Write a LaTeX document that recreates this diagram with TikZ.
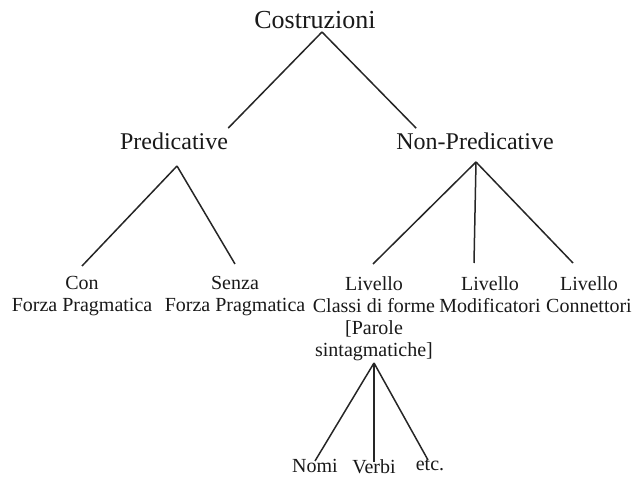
\documentclass[tikz,border=0pt]{standalone}
\usepackage{fontspec}
\setmainfont{Liberation Serif}
\usetikzlibrary{positioning}
\tikzset{
    branch/.style={
        draw=black!85,
        line width=1.5pt
    },
    rootlabel/.style={
        font=\fontsize{26}{28}\selectfont,
        inner sep=0pt,
        anchor=base,
        text=black!90
    },
    catlabel/.style={
        font=\fontsize{24}{26}\selectfont,
        inner sep=0pt,
        anchor=base,
        text=black!90
    },
    leaflabel/.style={
        font=\fontsize{20}{22}\selectfont,
        inner sep=0pt,
        anchor=north,
        align=center,
        text=black!90
    }
}

\begin{document}
\begin{tikzpicture}[x=1pt,y=-1pt]
    \useasboundingbox (0,0) rectangle (638,478);

    \node[rootlabel] (costr) at (315,29) {Costruzioni};
    \node[catlabel] (pred) at (174,150) {Predicative};
    \node[catlabel] (npred) at (475,150) {Non-Predicative};

    \node[leaflabel] (con) at (82,276) {Con\\Forza Pragmatica};
    \node[leaflabel] (senza) at (235,276) {Senza\\Forza Pragmatica};
    \node[leaflabel] (classi) at (374,276) {Livello\\Classi di forme\\{[}Parole\\sintagmatiche{]}};
    \node[leaflabel] (modif) at (490,276) {Livello\\Modificatori};
    \node[leaflabel] (conn) at (589,276) {Livello\\Connettori};

    \node[leaflabel] (nomi) at (315,459) {Nomi};
    \node[leaflabel] (verbi) at (374,459) {Verbi};
    \node[leaflabel] (etc) at (430,459) {etc.};

    \coordinate (costr-fork) at (322,32);
    \coordinate (pred-fork) at (177,166);
    \coordinate (npred-fork) at (476,162);
    \coordinate (classi-fork) at (374,363);

    \draw[branch] (costr-fork) -- ([yshift=5pt]pred.north east);
    \draw[branch] (costr-fork) -- ([xshift=20pt,yshift=5pt]npred.north west);
    \draw[branch] (pred-fork) -- ([yshift=10pt]con.north);
    \draw[branch] (pred-fork) -- ([yshift=12pt]senza.north);
    \draw[branch] (npred-fork) -- ([xshift=-1pt,yshift=12pt]classi.north);
    \draw[branch] (npred-fork) -- ([xshift=-16pt,yshift=13pt]modif.north);
    \draw[branch] (npred-fork) -- ([xshift=-16pt,yshift=13pt]conn.north);
    \draw[branch] (classi-fork) -- ([yshift=-2pt]nomi.north);
    \draw[branch] (classi-fork) -- ([yshift=-3pt]verbi.north);
    \draw[branch] (classi-fork) -- ([xshift=-2pt,yshift=-1pt]etc.north);
\end{tikzpicture}
\end{document}
